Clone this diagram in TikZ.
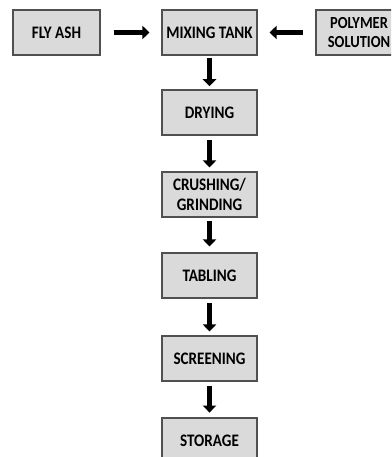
\documentclass[tikz,border=0pt]{standalone}
\usepackage{fontspec}
\newfontfamily\boxfont[FakeStretch=0.86]{Carlito}
\usetikzlibrary{arrows.meta}
\definecolor{boxfill}{HTML}{DADADA}
\definecolor{boxline}{HTML}{505050}
\tikzset{
  stepbox/.style={draw=boxline, fill=boxfill, line width=0.9pt,
    minimum width=2.375cm, minimum height=1.125cm, align=center,
    font=\boxfont\bfseries\fontsize{12.5}{14}\selectfont, inner sep=1pt},
  flow/.style={line width=3.4pt, -{Triangle[length=5pt,width=9.5pt]}}
}
\begin{document}
\begin{tikzpicture}[x=0.025cm, y=-0.025cm]
\useasboundingbox (0,0) rectangle (391,457);
\clip (0,0) rectangle (391,457);

% Inputs
\node[stepbox, minimum width=2.175cm] (ash) at (56.5,32.5) {FLY ASH};
\node[stepbox] (mix) at (209.5,32.5) {MIXING TANK};
\node[stepbox, minimum width=2.15cm,
  font=\boxfont\bfseries\fontsize{12}{14}\selectfont] (poly) at (359,32.5) {POLYMER\\SOLUTION};

% Process chain
\node[stepbox] (dry) at (209.5,112.5) {DRYING};
\node[stepbox] (crush) at (209.5,194.5) {CRUSHING/\\GRINDING};
\node[stepbox] (tab) at (209.5,275.5) {TABLING};
\node[stepbox] (screen) at (209.5,358.5) {SCREENING};
\node[stepbox] (store) at (209.5,440.5) {STORAGE};

%--------------------------------------------------
% Arrows
%--------------------------------------------------
\draw[flow, shorten <=0.325cm, shorten >=0.3cm] (ash) -- (mix);
\draw[flow, shorten <=0.3cm, shorten >=0.3cm] (poly.west) -- (mix);
\draw[flow, shorten <=0.05cm, shorten >=0.08cm] (mix) -- (dry);
\draw[flow, shorten <=0.12cm, shorten >=0.1cm] (dry) -- (crush);
\draw[flow, shorten <=0.08cm, shorten >=0.15cm] (crush) -- (tab);
\draw[flow, shorten <=0.12cm, shorten >=0.1cm] (tab) -- (screen);
\draw[flow, shorten <=0.1cm, shorten >=0.12cm] (screen) -- (store);

\end{tikzpicture}
\end{document}
